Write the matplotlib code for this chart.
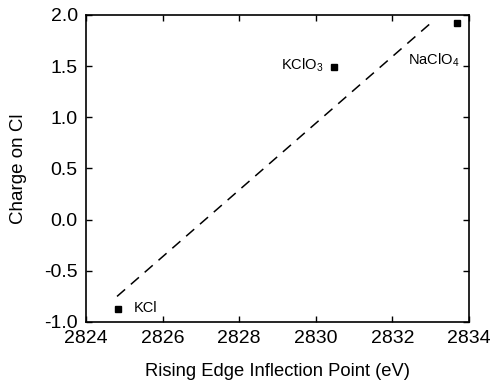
import matplotlib
matplotlib.use("Agg")
import matplotlib.pyplot as plt

plt.rcParams['font.family'] = ['Liberation Sans', 'DejaVu Sans']
plt.rcParams['mathtext.default'] = 'regular'

# points (inflection energy, charge on Cl)
compounds = ["KCl", "KClO$_3$", "NaClO$_4$"]
energy = [2824.84, 2830.47, 2833.69]
charge = [-0.87, 1.49, 1.92]

# dashed fit line end points
fit_x = [2824.81, 2833.06]
fit_y = [-0.75, 1.94]

xticks = [2824, 2826, 2828, 2830, 2832, 2834]
yticks = [-1.0, -0.5, 0.0, 0.5, 1.0, 1.5, 2.0]

fig = plt.figure(figsize=(4.94, 3.85), dpi=100)
ax = fig.add_axes([86/494, 1 - 322/385, (469-86)/494, (322-15)/385])

ax.plot(fit_x, fit_y, color='black', lw=1.1, dashes=(7, 5))
ax.plot(energy, charge, 's', color='black', ms=4.5)

# labels next to points
ax.text(2825.25, -0.86, compounds[0], fontsize=10.5, va='center', ha='left')
ax.text(2830.2, 1.51, compounds[1], fontsize=10.5, va='center', ha='right')
ax.text(2833.75, 1.56, compounds[2], fontsize=10.5, va='center', ha='right')

ax.set_xlim(2824, 2834)
ax.set_ylim(-1.0, 2.0)
ax.set_xticks(xticks)
ax.set_yticks(yticks)
ax.set_yticklabels([f"{v:.1f}" for v in yticks])
ax.tick_params(direction='in', length=4, width=1, top=True, right=True,
               labelsize=14, pad=6)
for s in ax.spines.values():
    s.set_linewidth(1.2)

ax.set_xlabel("Rising Edge Inflection Point (eV)", fontsize=13.2, labelpad=11)
ax.set_ylabel("Charge on Cl", fontsize=13.5, labelpad=12)

fig.savefig("out.png", dpi=100)
